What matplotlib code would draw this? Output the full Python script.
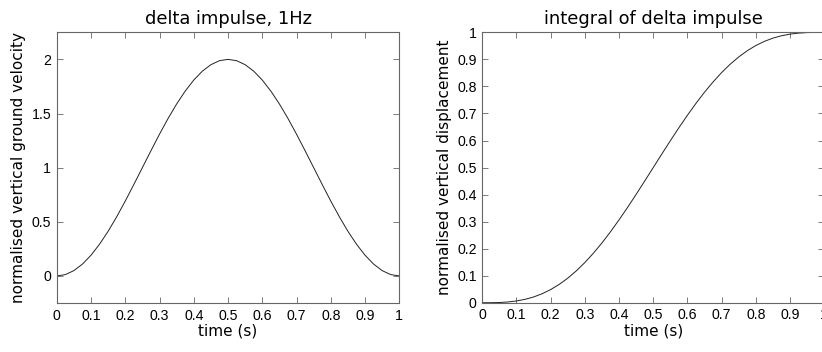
import matplotlib
matplotlib.use("Agg")
import matplotlib.pyplot as plt
from matplotlib.ticker import FuncFormatter

# time samples (s)
t = [0, 0.025, 0.05, 0.075, 0.1, 0.125, 0.15, 0.175, 0.2, 0.225, 0.25,
     0.275, 0.3, 0.325, 0.35, 0.375, 0.4, 0.425, 0.45, 0.475, 0.5,
     0.525, 0.55, 0.575, 0.6, 0.625, 0.65, 0.675, 0.7, 0.725, 0.75,
     0.775, 0.8, 0.825, 0.85, 0.875, 0.9, 0.925, 0.95, 0.975, 1.0]

# normalised vertical ground velocity
velocity = [0, 0.012, 0.049, 0.109, 0.191, 0.293, 0.412, 0.546, 0.691, 0.844, 1.0,
            1.156, 1.309, 1.454, 1.588, 1.707, 1.809, 1.891, 1.951, 1.988, 2.0,
            1.988, 1.951, 1.891, 1.809, 1.707, 1.588, 1.454, 1.309, 1.156, 1.0,
            0.844, 0.691, 0.546, 0.412, 0.293, 0.191, 0.109, 0.049, 0.012, 0]

# normalised vertical displacement
displacement = [0, 0.0001, 0.0008, 0.0027, 0.0065, 0.0125, 0.0212, 0.0332, 0.0486, 0.0678, 0.0908,
                0.1178, 0.1486, 0.1832, 0.2212, 0.2625, 0.3065, 0.3527, 0.4008, 0.4501, 0.5,
                0.5499, 0.5992, 0.6473, 0.6935, 0.7375, 0.7788, 0.8168, 0.8514, 0.8822, 0.9092,
                0.9322, 0.9514, 0.9668, 0.9788, 0.9875, 0.9935, 0.9973, 0.9992, 0.9999, 1.0]

x_ticks = [0, 0.1, 0.2, 0.3, 0.4, 0.5, 0.6, 0.7, 0.8, 0.9, 1]
vel_ticks = [0, 0.5, 1, 1.5, 2]
disp_ticks = [0, 0.1, 0.2, 0.3, 0.4, 0.5, 0.6, 0.7, 0.8, 0.9, 1]

fig = plt.figure(figsize=(8.22, 3.52), dpi=100)
ax1 = fig.add_axes([0.069, 0.1392, 0.4168, 0.769])
ax2 = fig.add_axes([0.5867, 0.1400, 0.4160, 0.768])

fmt = FuncFormatter(lambda v, p: "%g" % round(v, 3))
tick_font = "Liberation Sans"

for ax in (ax1, ax2):
    for s in ax.spines.values():
        s.set_color("#666666")
        s.set_linewidth(0.8)
    ax.tick_params(direction="in", top=True, right=True, length=4,
                   width=0.6, color="#666666", labelsize=10.2, pad=4)
    ax.set_xticks(x_ticks)
    ax.xaxis.set_major_formatter(fmt)
    ax.yaxis.set_major_formatter(fmt)
    ax.set_xlim(0, 1)
    ax.set_xlabel("time (s)", fontsize=11, labelpad=1)

ax1.plot(t, velocity, color="#222222", linewidth=0.7)
ax1.set_ylim(-0.25, 2.25)
ax1.set_yticks(vel_ticks)
ax1.set_title("delta impulse, 1Hz", fontsize=12.9, pad=6)
ax1.set_ylabel("normalised vertical ground velocity", fontsize=11, labelpad=4)

ax2.plot(t, displacement, color="#222222", linewidth=0.7)
ax2.set_ylim(0, 1)
ax2.set_yticks(disp_ticks)
ax2.set_title("integral of delta impulse", fontsize=12.9, pad=6)
ax2.set_ylabel("normalised vertical displacement", fontsize=11, labelpad=4)

for ax in (ax1, ax2):
    for lab in ax.get_xticklabels() + ax.get_yticklabels():
        lab.set_fontfamily(tick_font)

fig.savefig("out.png", dpi=100)
